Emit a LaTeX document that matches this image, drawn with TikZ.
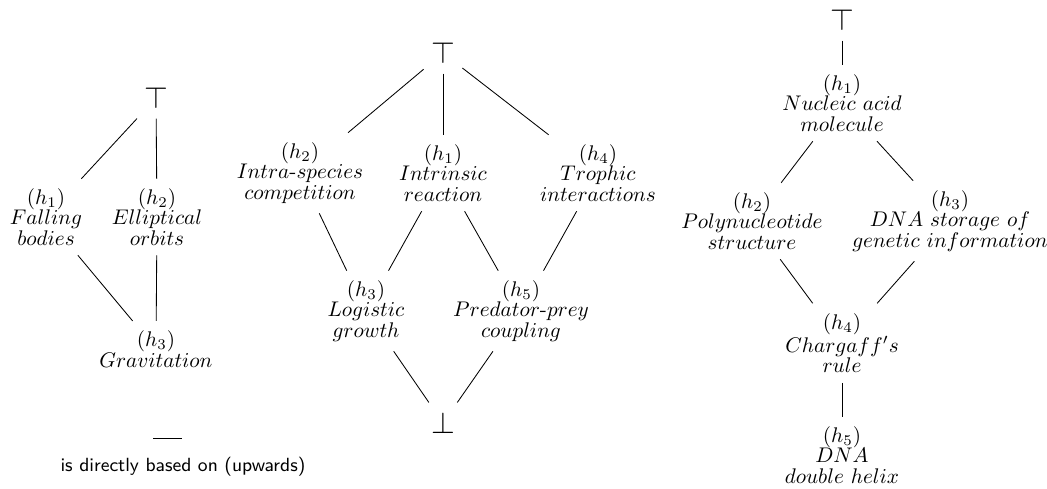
\documentclass[tikz,border=0pt]{standalone}

\begin{document}
\begin{tikzpicture}[x=0.472pt,y=-0.472pt,
                    hyp/.style={align=center,inner ysep=4.5pt,font={\linespread{0.8}\selectfont}},
                    bound/.style={font=\Large,inner ysep=4.5pt},
                    legend/.style={font=\sffamily\small}]
      \useasboundingbox (0,0) rectangle (1047,488);

      % Newton
      \node[bound] (lT) at (156,98) {$\top$};
      \node[hyp] (lh1) at (46,217) {$(h_1)$\\$Falling$\\$bodies$};
      \node[hyp] (lh2) at (157,217) {$(h_2)$\\$Elliptical$\\$orbits$};
      \node[hyp] (lh3) at (156,349) {$(h_3)$\\$Gravitation$};
      \foreach \a/\b in {lT/lh1,lT/lh2,lh1/lh3,lh2/lh3}
        \draw (\a) -- (\b);

      % legend
      \coordinate (leg1) at (153,438);
      \coordinate (leg2) at (182,438);
      \draw (leg1) -- (leg2);
      \node[legend] (legtext) at (183,467) {is directly based on (upwards)};

      % population dynamics
      \node[bound] (mT) at (443,53) {$\top$};
      \node[hyp] (mh2) at (300,173) {$(h_2)$\\$Intra$-$species$\\$competition$};
      \node[hyp] (mh1) at (443,173) {$(h_1)$\\$Intrinsic$\\$reaction$};
      \node[hyp] (mh4) at (598,173) {$(h_4)$\\$Trophic$\\$interactions$};
      \node[hyp] (mh3) at (366,311) {$(h_3)$\\$Logistic$\\$growth$};
      \node[hyp] (mh5) at (521,311) {$(h_5)$\\$Predator$-$prey$\\$coupling$};
      \node[bound] (mB) at (443,423) {$\bot$};
      \foreach \a/\b in {mT/mh2,mT/mh1,mT/mh4,mh2/mh3,mh1/mh3,mh1/mh5,mh4/mh5,mh3/mB,mh5/mB}
        \draw (\a) -- (\b);

      % DNA
      \node[bound] (rT) at (842,20) {$\top$};
      \node[hyp] (rh1) at (842,103) {$(h_1)$\\$Nucleic\ acid$\\$molecule$};
      \node[hyp] (rh2) at (752,221) {$(h_2)$\\$Polynucleotide$\\$structure$};
      \node[hyp] (rh3) at (950,221) {$(h_3)$\\$DNA\ storage\ of$\\$genetic\ information$};
      \node[hyp] (rh4) at (842,343) {$(h_4)$\\$Chargaff's$\\$rule$};
      \node[hyp] (rh5) at (842,455) {$(h_5)$\\$DNA$\\$double\ helix$};
      \foreach \a/\b in {rT/rh1,rh1/rh2,rh1/rh3,rh2/rh4,rh3/rh4,rh4/rh5}
        \draw (\a) -- (\b);
\end{tikzpicture}
\end{document}
